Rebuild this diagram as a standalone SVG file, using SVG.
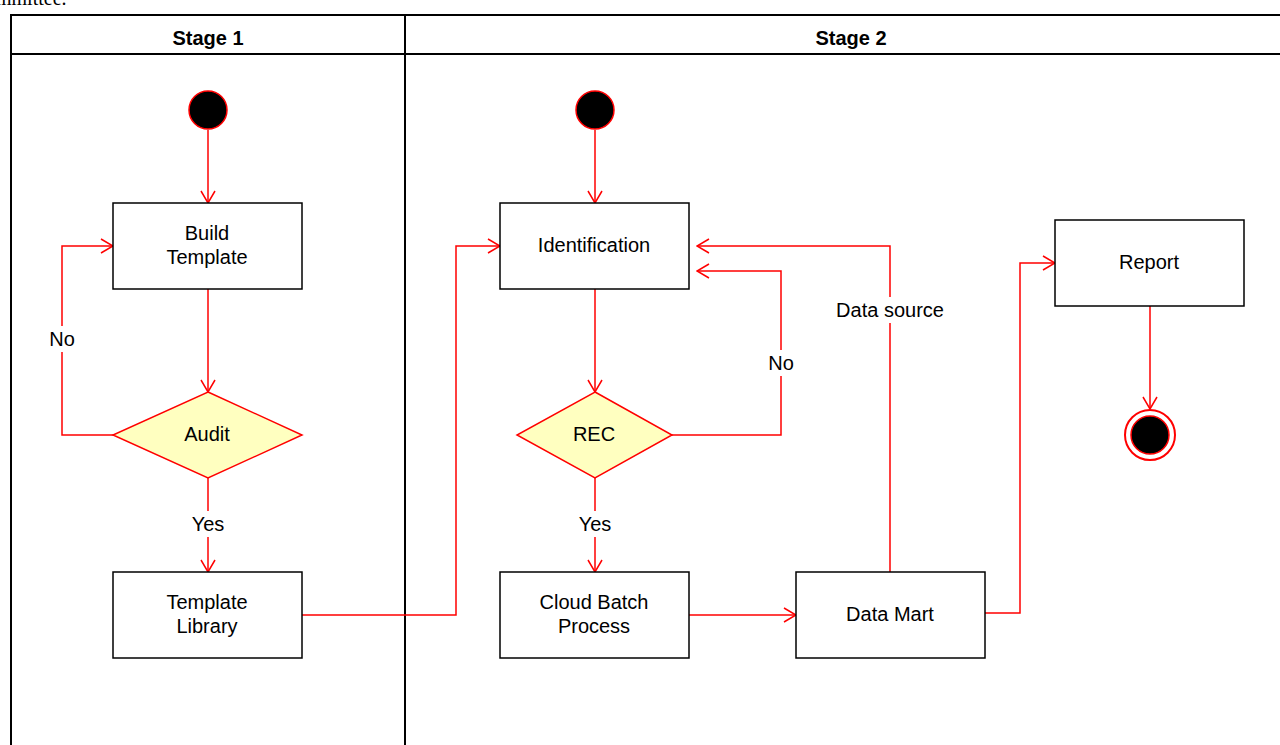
<svg xmlns="http://www.w3.org/2000/svg" width="1280" height="745" viewBox="0 0 1280 745">
<defs>
<style>
.lane{fill:none;stroke:#000;stroke-width:2}
.hdr{font-family:"Liberation Sans",Arial,sans-serif;font-size:20px;font-weight:bold;fill:#000;text-anchor:middle}
.box{fill:#fff;stroke:#000;stroke-width:1.5}
.dia{fill:#ffffc0;stroke:#ff0000;stroke-width:1.5}
.start{fill:#000;stroke:#ff0000;stroke-width:1.5}
.t{font-family:"Liberation Sans",Arial,sans-serif;font-size:20px;fill:#000;text-anchor:middle}
.e{fill:none;stroke:#ff0000;stroke-width:1.5}
.lbg{fill:#fff}
</style>
<marker id="arr" viewBox="0 0 14 16" refX="13" refY="8" markerWidth="14" markerHeight="16" markerUnits="userSpaceOnUse" orient="auto">
<path d="M1,1 L13,8 L1,15" fill="none" stroke="#ff0000" stroke-width="1.5"/>
</marker>
</defs>
<rect width="1280" height="745" fill="#fff"/>
<text x="-4" y="5" font-family="Liberation Serif,serif" font-size="20" fill="#000">mmittee.</text>
<g id="pool">
<path class="lane" d="M11,746 V15 H1282"/>
<path class="lane" d="M11,54 H1282"/>
<path class="lane" d="M405,15 V746"/>
<text class="hdr" x="208" y="45">Stage 1</text>
<text class="hdr" x="851" y="45">Stage 2</text>
</g>
<g id="connectors">
<path class="e" d="M208,130 V203" marker-end="url(#arr)"/>
<path class="e" d="M208,289 V392" marker-end="url(#arr)"/>
<path class="e" d="M113,435 H62 V246 H113" marker-end="url(#arr)"/>
<path class="e" d="M208,478 V572" marker-end="url(#arr)"/>
<path class="e" d="M302,615 H456 V246 H500" marker-end="url(#arr)"/>
<path class="e" d="M595,130 V203" marker-end="url(#arr)"/>
<path class="e" d="M595,289 V392" marker-end="url(#arr)"/>
<path class="e" d="M672,435 H781 V271 H697" marker-end="url(#arr)"/>
<path class="e" d="M595,478 V572" marker-end="url(#arr)"/>
<path class="e" d="M689,615 H796" marker-end="url(#arr)"/>
<path class="e" d="M890,572 V246 H697" marker-end="url(#arr)"/>
<path class="e" d="M985,613 H1020 V263 H1055" marker-end="url(#arr)"/>
<path class="e" d="M1150,306 V409" marker-end="url(#arr)"/>
<rect class="lbg" x="44" y="326" width="36" height="26"/>
<text class="t" x="62" y="346">No</text>
<rect class="lbg" x="186" y="511" width="44" height="26"/>
<text class="t" x="208" y="531">Yes</text>
<rect class="lbg" x="763" y="350" width="36" height="26"/>
<text class="t" x="781" y="370">No</text>
<rect class="lbg" x="573" y="511" width="44" height="26"/>
<text class="t" x="595" y="531">Yes</text>
<rect class="lbg" x="832" y="297" width="116" height="26"/>
<text class="t" x="890" y="317">Data source</text>
</g>
<g id="start1"><circle class="start" cx="208" cy="110" r="19"/></g>
<g id="build-template"><rect class="box" x="113" y="203" width="189" height="86"/><text class="t" x="207" y="240">Build</text><text class="t" x="207" y="264">Template</text></g>
<g id="audit"><polygon class="dia" points="208,392 302,435 208,478 113,435"/><text class="t" x="207" y="441">Audit</text></g>
<g id="template-library"><rect class="box" x="113" y="572" width="189" height="86"/><text class="t" x="207" y="609">Template</text><text class="t" x="207" y="633">Library</text></g>
<g id="start2"><circle class="start" cx="595" cy="110" r="19"/></g>
<g id="identification"><rect class="box" x="500" y="203" width="189" height="86"/><text class="t" x="594" y="252">Identification</text></g>
<g id="rec"><polygon class="dia" points="595,392 672,435 595,478 517,435"/><text class="t" x="594" y="441">REC</text></g>
<g id="cloud-batch"><rect class="box" x="500" y="572" width="189" height="86"/><text class="t" x="594" y="609">Cloud Batch</text><text class="t" x="594" y="633">Process</text></g>
<g id="data-mart"><rect class="box" x="796" y="572" width="189" height="86"/><text class="t" x="890" y="621">Data Mart</text></g>
<g id="report"><rect class="box" x="1055" y="220" width="189" height="86"/><text class="t" x="1149" y="269">Report</text></g>
<g id="end"><circle cx="1150" cy="435" r="25" fill="#fff" stroke="#ff0000" stroke-width="2"/><circle cx="1150" cy="435" r="19" fill="#000" stroke="#ff0000" stroke-width="1.5"/></g>
</svg>
